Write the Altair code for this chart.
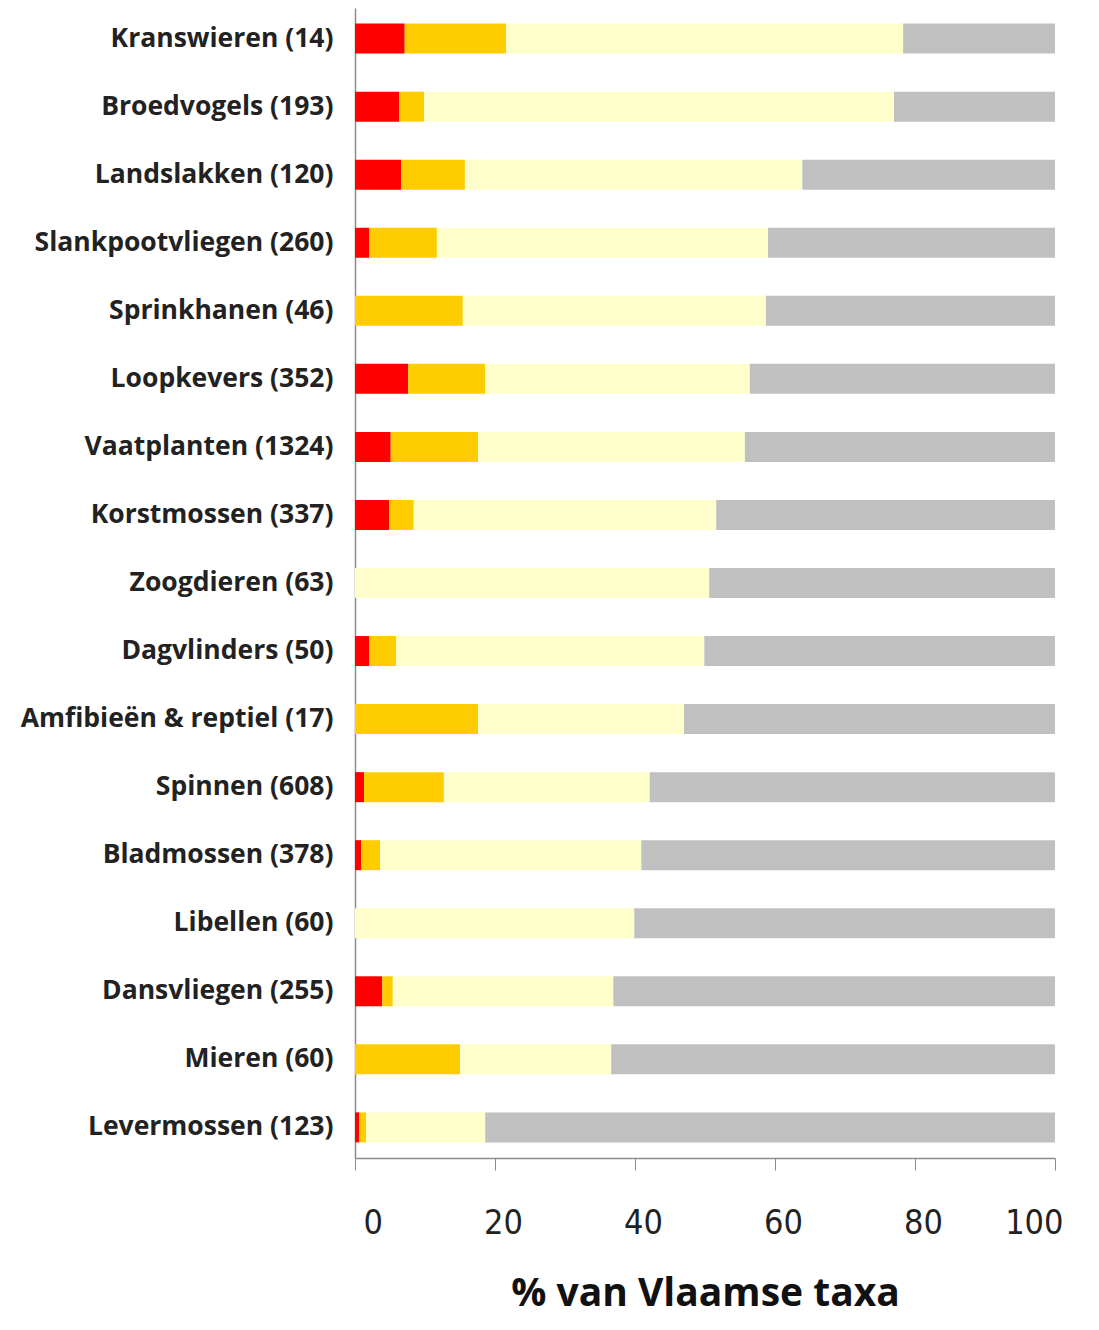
import altair as alt
import pandas as pd

categories = [
    "Kranswieren (14)", "Broedvogels (193)", "Landslakken (120)",
    "Slankpootvliegen (260)", "Sprinkhanen (46)", "Loopkevers (352)",
    "Vaatplanten (1324)", "Korstmossen (337)", "Zoogdieren (63)",
    "Dagvlinders (50)", "Amfibieën & reptiel (17)", "Spinnen (608)",
    "Bladmossen (378)", "Libellen (60)", "Dansvliegen (255)",
    "Mieren (60)", "Levermossen (123)",
]
red = [7.1, 6.3, 6.6, 2.0, 0.0, 7.6, 5.1, 4.9, 0.0, 2.0, 0.0, 1.3, 0.9, 0.0, 3.9, 0.0, 0.6]
orange = [14.5, 3.6, 9.1, 9.7, 15.4, 11.0, 12.5, 3.5, 0.0, 3.9, 17.6, 11.4, 2.7, 0.0, 1.5, 15.0, 1.0]
yellow = [56.7, 67.1, 48.2, 47.3, 43.3, 37.8, 38.1, 43.2, 50.6, 44.0, 29.4, 29.4, 37.3, 39.9, 31.5, 21.6, 17.0]
gray = [21.7, 23.0, 36.1, 41.0, 41.3, 43.6, 44.3, 48.4, 49.4, 50.1, 53.0, 57.9, 59.1, 60.1, 63.1, 63.4, 81.4]

statuses = ["rood", "oranje", "geel", "grijs"]
colors = ["#FF0000", "#FFCC00", "#FFFFCC", "#C0C0C0"]

rows = []
for i, c in enumerate(categories):
    for k, (s, vals) in enumerate(zip(statuses, [red, orange, yellow, gray])):
        rows.append({"cat": c, "status": s, "value": vals[i], "ord": k})
df = pd.DataFrame(rows)

chart = alt.Chart(df).mark_bar(size=30).encode(
    y=alt.Y("cat:N", sort=categories, title=None,
            scale=alt.Scale(paddingInner=0.5, paddingOuter=0.2),
            axis=alt.Axis(labelFont="Open Sans", labelFontWeight="bold", labelFontSize=26.5,
                          labelColor="#222222", labelPadding=22, ticks=False,
                          domainColor="#8c8c8c", domainWidth=1.5, labelLimit=400)),
    x=alt.X("value:Q", stack="zero", title="% van Vlaamse taxa",
            scale=alt.Scale(domain=[0, 100], nice=False),
            axis=alt.Axis(values=[0, 20, 40, 60, 80, 100], grid=False,
                          labelFont="DejaVu Sans Condensed, Roboto", labelFontSize=34,
                          labelColor="#222222", labelOffset=8,
                          labelPadding=36, tickSize=12, tickColor="#8c8c8c",
                          domainColor="#8c8c8c", domainWidth=1.5,
                          titleFont="Open Sans", titleFontWeight="bold", titleFontSize=39,
                          titleColor="#111111", titlePadding=34)),
    color=alt.Color("status:N", scale=alt.Scale(domain=statuses, range=colors), legend=None),
    order=alt.Order("ord:Q"),
).properties(
    width=700, height=1150,
    autosize=alt.AutoSizeParams(type="none"),
    padding={"left": 347, "top": 0, "right": 34, "bottom": 160},
).configure_view(stroke=None)

chart.save("out.html", embed_options={"renderer": "svg", "actions": False})
